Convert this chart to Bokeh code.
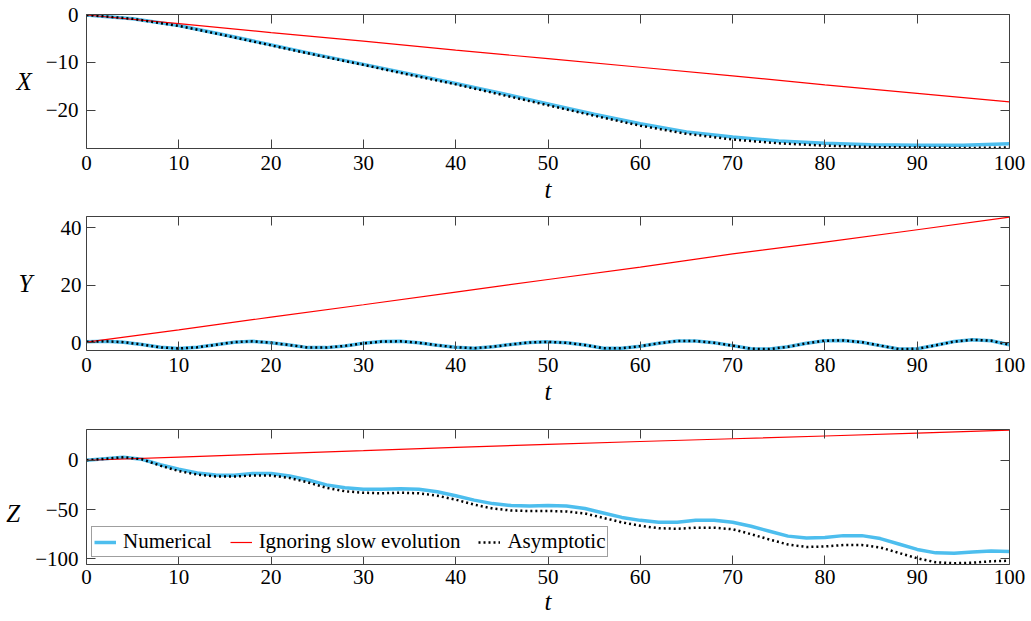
from bokeh.plotting import figure
from bokeh.models import Range1d, FixedTicker, LinearAxis, Legend, LegendItem
from bokeh.layouts import column
from bokeh.embed import file_html
from bokeh.resources import INLINE

# ---------------- data ----------------
T_TICKS = [0, 10, 20, 30, 40, 50, 60, 70, 80, 90, 100]
X_TICKS = [-20, -10, 0]
Y_TICKS = [0, 20, 40]
Z_TICKS = [-100, -50, 0]

T2 = list(range(0, 101, 2))
T5 = list(range(0, 101, 5))
T10 = list(range(0, 101, 10))

X_num = [0, -0.8, -2.2, -4.2, -6.3, -8.4, -10.4, -12.4, -14.4, -16.5, -18.7,
         -20.9, -22.9, -24.6, -25.7, -26.5, -27.0, -27.3, -27.4, -27.4, -27.1]
X_asy = [0, -0.8, -2.3, -4.3, -6.4, -8.5, -10.5, -12.6, -14.6, -16.8, -19.0,
         -21.2, -23.3, -25.0, -26.2, -27.0, -27.5, -27.8, -27.9, -28.0, -27.9]
X_ign = [0, -1.8, -3.7, -5.5, -7.4, -9.2, -11.0, -12.8, -14.7, -16.5, -18.3]

Y_num = [0.3, 0.5, 0.2, -0.6, -1.6, -2.0, -1.6, -0.7, 0.2, 0.5,
         0.0, -0.8, -1.7, -1.7, -1.1, -0.2, 0.4, 0.5, 0.0, -0.9,
         -1.6, -1.9, -1.4, -0.6, 0.1, 0.3, 0.0, -0.8, -1.9, -1.9,
         -1.2, -0.2, 0.6, 0.6, 0.0, -1.0, -2.1, -2.2, -1.4, -0.2,
         0.7, 0.8, 0.2, -1.0, -2.2, -2.1, -0.9, 0.4, 1.0, 0.7,
         -0.7]
Y_asy = [0.3, 0.5, 0.2, -0.6, -1.6, -2.0, -1.6, -0.7, 0.2, 0.5,
         0.0, -0.8, -1.7, -1.7, -1.1, -0.2, 0.4, 0.5, 0.0, -0.9,
         -1.6, -1.9, -1.4, -0.6, 0.1, 0.3, 0.0, -0.8, -1.9, -1.9,
         -1.2, -0.2, 0.6, 0.6, 0.0, -1.0, -2.1, -2.2, -1.4, -0.2,
         0.7, 0.8, 0.2, -1.0, -2.2, -2.1, -0.9, 0.4, 1.0, 0.7,
         -0.7]
Y_ign = [0.2, 4.5, 8.9, 13.2, 17.6, 22.0, 26.3, 30.9, 35.0, 39.3, 43.7]

Z_num = [0, 1.5, 3.0, 1.0, -4.5, -9.0, -13.0, -15.0, -15.2, -13.5,
         -13.5, -16.0, -20.0, -25.0, -28.0, -29.5, -29.5, -29.0, -29.5, -32.0,
         -36.0, -40.5, -44.0, -46.0, -46.5, -46.0, -46.5, -49.0, -53.5, -58.0,
         -61.0, -63.0, -63.0, -61.0, -61.0, -63.0, -67.0, -72.0, -77.0, -79.0,
         -78.5, -76.5, -76.5, -79.5, -85.0, -90.5, -94.0, -94.5, -93.0, -92.0,
         -92.5]
Z_asy = [0, 1.5, 3.0, 1.0, -5.5, -11.0, -14.5, -16.5, -16.5, -15.5,
         -15.5, -18.0, -22.5, -28.0, -31.5, -33.0, -33.5, -33.0, -33.5, -36.0,
         -40.0, -45.0, -49.0, -51.0, -51.5, -51.5, -52.0, -54.0, -58.5, -63.0,
         -66.5, -69.0, -69.5, -68.5, -68.5, -70.0, -75.0, -80.5, -85.5, -88.0,
         -87.5, -86.0, -86.0, -88.5, -94.0, -99.5, -103.5, -104.5, -104.0, -102.5,
         -102.0]
Z_ign = [0, 3.2, 6.5, 9.7, 13.0, 16.2, 19.0, 21.8, 24.6, 27.5, 30.5]

LEGEND_LABELS = ["Numerical", "Ignoring slow evolution", "Asymptotic"]

# ---------------- style ----------------
FONT = "Liberation Serif"
BLUE = "#4DBEEE"
RED = "#FF0000"
AX = "#404040"


def minus(v):
    return ("\u2212" + str(abs(v))) if v < 0 else str(v)


def style_axis(ax, ticks, show, standoff):
    ax.ticker = FixedTicker(ticks=ticks)
    ax.axis_line_color = AX
    ax.axis_line_width = 1
    ax.major_tick_line_color = AX
    ax.major_tick_in = 9
    ax.major_tick_out = 0
    ax.minor_tick_line_color = None
    ax.major_label_text_font = FONT
    ax.major_label_text_color = "black"
    ax.major_label_standoff = standoff
    ax.axis_label_text_font = FONT
    ax.axis_label_text_font_style = "italic"
    ax.axis_label_text_font_size = "25px"
    ax.axis_label_text_color = "black"
    if show:
        ax.major_label_text_font_size = "21px"
        ax.major_label_overrides = {t: minus(t) for t in ticks}
    else:
        ax.major_label_text_font_size = "0px"
        ax.major_label_standoff = 0


def make_fig(height, top, bottom, yr, yticks, ystandoff, ylabel, ylabel_standoff,
             xstandoff, tstandoff):
    p = figure(width=1028, height=height, x_range=Range1d(0, 100),
               y_range=Range1d(*yr), output_backend="svg", toolbar_location=None,
               x_axis_type=None, y_axis_type=None,
               min_border_left=86, min_border_right=19,
               min_border_top=top, min_border_bottom=bottom)
    p.outline_line_color = None
    p.background_fill_color = "white"
    p.border_fill_color = "white"
    b = LinearAxis(axis_label="t")
    style_axis(b, T_TICKS, True, xstandoff)
    b.axis_label_standoff = tstandoff
    p.add_layout(b, "below")
    a = LinearAxis(); style_axis(a, T_TICKS, False, 0); p.add_layout(a, "above")
    l = LinearAxis(axis_label=ylabel)
    style_axis(l, yticks, True, ystandoff)
    l.axis_label_orientation = "horizontal"
    l.axis_label_standoff = ylabel_standoff
    p.add_layout(l, "left")
    r = LinearAxis(); style_axis(r, yticks, False, 0); p.add_layout(r, "right")
    return p


def draw(p, tn, yn, ti, yi, ta, ya):
    rn = p.line(tn, yn, line_color=BLUE, line_width=3.5)
    ri = p.line(ti, yi, line_color=RED, line_width=1.2)
    ra = p.line(ta, ya, line_color="black", line_width=2.5, line_dash="2 3")
    return rn, ri, ra


p1 = make_fig(210, 14, 62, (-28.1, 0.1), X_TICKS, 8, "X", 11, 7, 3)
draw(p1, T5, X_num, T10, X_ign, T5, X_asy)

p2 = make_fig(202, 6, 62, (-2.7, 43.9), Y_TICKS, 5, "Y", 25, 7, 3)
draw(p2, T2, Y_num, T10, Y_ign, T2, Y_asy)

p3 = make_fig(209, 17, 57, (-105.8, 31.2), Z_TICKS, 8, "\u00a0\nZ", 12, 5, 1)
rn, ri, ra = draw(p3, T2, Z_num, T10, Z_ign, T2, Z_asy)

legend = Legend(items=[LegendItem(label=LEGEND_LABELS[0], renderers=[rn]),
                       LegendItem(label=LEGEND_LABELS[1], renderers=[ri]),
                       LegendItem(label=LEGEND_LABELS[2], renderers=[ra])],
                orientation="horizontal", location=(5, 7),
                border_line_color=AX, border_line_width=1,
                background_fill_color="white", background_fill_alpha=1.0,
                label_text_font=FONT, label_text_font_size="21px",
                label_text_color="black",
                glyph_width=22, glyph_height=18, label_height=18,
                label_standoff=7, spacing=18, padding=2, margin=0)
p3.add_layout(legend)

layout = column(p1, p2, p3, spacing=0)
open("out.html", "w").write(file_html(layout, INLINE))
